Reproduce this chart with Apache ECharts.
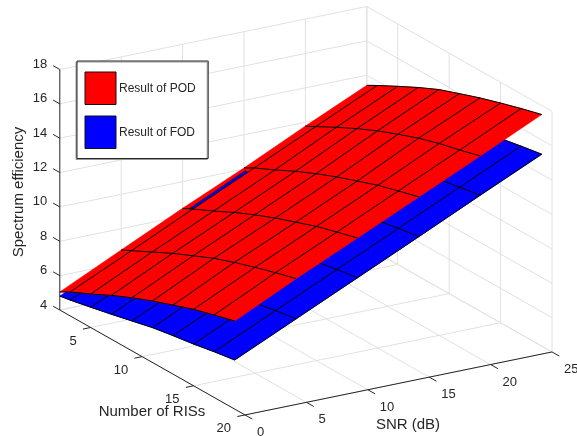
<!DOCTYPE html>
<html>
<head>
<meta charset="utf-8">
<style>html,body{margin:0;padding:0;background:#fff}#c{width:577px;height:436px}</style>
<script src="https://cdn.jsdelivr.net/npm/echarts@6/dist/echarts.min.js"></script>
</head>
<body>
<div id="c"></div>
<script>
// ---- data ----
const snrValues = [0, 5, 10, 15, 20, 25];
const risValues = [2, 3, 5, 7, 9, 11, 13, 15, 17, 19];
// one list per SNR value, one entry per RIS count
const podSnr0  = [5.05, 5.39, 5.95, 6.55, 7.09, 7.58, 8.02, 8.45, 8.80, 9.13];
const podSnr5  = [6.76, 7.06, 7.66, 8.26, 8.80, 9.33, 9.77, 10.16, 10.53, 10.86];
const podSnr10 = [8.45, 8.75, 9.31, 9.91, 10.45, 10.94, 11.38, 11.81, 12.16, 12.49];
const podSnr15 = [10.07, 10.41, 10.97, 11.57, 12.11, 12.60, 13.04, 13.47, 13.82, 14.15];
const podSnr20 = [11.77, 12.08, 12.72, 13.32, 13.87, 14.35, 14.80, 15.17, 15.47, 15.80];
const podSnr25 = [13.41, 13.74, 14.37, 14.98, 15.54, 15.98, 16.41, 16.79, 17.15, 17.48];
const fodSnr0  = [4.81, 4.92, 5.18, 5.45, 5.74, 6.03, 6.24, 6.43, 6.66, 6.86];
const fodSnr5  = [6.47, 6.58, 6.84, 7.11, 7.40, 7.69, 7.90, 8.09, 8.32, 8.52];
const fodSnr10 = [8.13, 8.24, 8.50, 8.77, 9.06, 9.35, 9.56, 9.75, 9.98, 10.18];
const fodSnr15 = [9.79, 9.90, 10.16, 10.43, 10.72, 11.01, 11.22, 11.41, 11.64, 11.84];
const fodSnr20 = [11.45, 11.56, 11.82, 12.09, 12.38, 12.67, 12.88, 13.07, 13.30, 13.52];
const fodSnr25 = [13.11, 13.22, 13.48, 13.75, 14.04, 14.33, 14.54, 14.73, 14.96, 15.17];
// small part of the FOD surface showing through the POD surface
const sliverSnr = [10.1, 14.7, 14.5, 10.1];
const sliverRis = [2.49, 2.5, 2.96, 3.0];
const sliverVal = [8.57, 10.12, 10.22, 8.80];
// axis ticks
const snrTicks = [0, 5, 10, 15, 20, 25];
const risTicks = [5, 10, 15, 20];
const zTicks = [4, 6, 8, 10, 12, 14, 16, 18];
const snrMin = 0, snrMax = 25, risMin = 2, risMax = 20, zMin = 4, zMax = 18;

// ---- orthographic view of the 3D box, in the plane of a hidden cartesian grid ----
const view = {ox: 59.8, oy: 310, sx: 12.28, sy: -2.52, nx: 10.29, ny: 5.83, zy: -17.18};
function project(s, n, z) {
  return [view.ox + s * view.sx + (n - risMin) * view.nx,
          view.oy + s * view.sy + (n - risMin) * view.ny + (z - zMin) * view.zy];
}
const INK = '#262626', GRID = '#e2e2e2';

function pathShape(api, pts) { return pts.map(p => api.coord(project(p[0], p[1], p[2]))); }

function linesSeries(items) {
  return {
    type: 'custom', coordinateSystem: 'cartesian2d', silent: true, clip: false,
    data: items.map((_, i) => [i]),
    renderItem(params, api) {
      const it = items[params.dataIndex];
      return {type: 'polyline', silent: true,
        shape: {points: pathShape(api, it.pts)},
        style: {stroke: it.color, lineWidth: it.width || 1, fill: 'none'}};
    }
  };
}

function surfaceSeries(name, color, table, edgeLine, extra) {
  const items = [];
  for (let a = 0; a < snrValues.length - 1; a++) {
    for (let b = 0; b < risValues.length - 1; b++) {
      items.push({fill: color, pts: [
        [snrValues[a], risValues[b], table[a][b]],
        [snrValues[a + 1], risValues[b], table[a + 1][b]],
        [snrValues[a + 1], risValues[b + 1], table[a + 1][b + 1]],
        [snrValues[a], risValues[b + 1], table[a][b + 1]]
      ]});
    }
  }
  const lastRow = edgeLine ? risValues.length : risValues.length - 1;
  for (let b = 1; b < lastRow; b++) {
    items.push({line: true, pts: snrValues.map((s, a) => [s, risValues[b], table[a][b]])});
  }
  snrValues.forEach((s, a) => {
    items.push({line: true, pts: risValues.map((n, b) => [s, n, table[a][b]])});
  });
  (extra || []).forEach(e => items.push(e));
  return {
    name, type: 'custom', coordinateSystem: 'cartesian2d', silent: true, clip: false,
    itemStyle: {color},
    data: items.map((_, i) => [i]),
    renderItem(params, api) {
      const it = items[params.dataIndex];
      const points = pathShape(api, it.pts);
      if (it.line) {
        return {type: 'polyline', silent: true, shape: {points},
          style: {stroke: '#000', lineWidth: it.width || 1, fill: 'none'}};
      }
      return {type: 'polygon', silent: true, shape: {points},
        style: {fill: it.fill, stroke: it.stroke || it.fill, lineWidth: it.stroke ? 0.5 : 0.6}};
    }
  };
}

// ---- box: grid lines and axes ----
const gridItems = [];
const addGrid = pts => gridItems.push({color: GRID, pts});
snrTicks.forEach(s => {
  addGrid([[s, risMin, zMin], [s, risMax, zMin]]);
  if (s > snrMin) addGrid([[s, risMin, zMin], [s, risMin, zMax]]);
});
risTicks.concat([risMin]).forEach(n => {
  addGrid([[snrMin, n, zMin], [snrMax, n, zMin]]);
  addGrid([[snrMax, n, zMin], [snrMax, n, zMax]]);
});
zTicks.forEach(z => addGrid([[snrMin, risMin, z], [snrMax, risMin, z], [snrMax, risMax, z]]));

const axisItems = [];
const addAxis = pts => axisItems.push({color: INK, pts});
addAxis([[snrMin, risMin, zMin], [snrMin, risMin, zMax]]);
addAxis([[snrMin, risMin, zMin], [snrMin, risMax, zMin]]);
addAxis([[snrMin, risMax, zMin], [snrMax, risMax, zMin]]);
zTicks.forEach(z => addAxis([[snrMin, risMin, z], [snrMin, risMin - 0.65, z]]));
risTicks.forEach(n => addAxis([[snrMin, n, zMin], [snrMin - 0.63, n, zMin]]));
snrTicks.forEach(s => addAxis([[s, risMax, zMin], [s, risMax + 0.71, zMin]]));

// ---- tick labels ----
const labelItems = [];
zTicks.forEach(z => labelItems.push({text: String(z), at: [snrMin, risMin, z], dx: -12.5, dy: -5, align: 'right'}));
risTicks.forEach(n => labelItems.push({text: String(n), at: [snrMin, n, zMin], dx: -14, dy: 13.5, align: 'right'}));
snrTicks.forEach(s => labelItems.push({text: String(s), at: [s, risMax, zMin], dx: 12, dy: 17.4, align: 'left'}));
const labelSeries = {
  type: 'custom', coordinateSystem: 'cartesian2d', silent: true, clip: false,
  data: labelItems.map((_, i) => [i]),
  renderItem(params, api) {
    const it = labelItems[params.dataIndex];
    const p = pathShape(api, [it.at])[0];
    return {type: 'text', silent: true, x: p[0] + it.dx, y: p[1] + it.dy,
      style: {text: it.text, fill: INK, font: '13px "Liberation Sans", Arial, sans-serif',
        align: it.align, verticalAlign: 'middle'}};
  }
};

const podTable = [podSnr0, podSnr5, podSnr10, podSnr15, podSnr20, podSnr25];
const fodTable = [fodSnr0, fodSnr5, fodSnr10, fodSnr15, fodSnr20, fodSnr25];
const sliver = {fill: '#0000ff', stroke: '#000', pts: sliverSnr.map((s, i) => [s, sliverRis[i], sliverVal[i]])};

const titleFont = '15px "Liberation Sans", Arial, sans-serif';
const chart = echarts.init(document.getElementById('c'), null, {renderer: 'canvas'});
chart.setOption({
  animation: false,
  backgroundColor: '#fff',
  grid: {left: 0, right: 0, top: 0, bottom: 0},
  xAxis: {type: 'value', min: 0, max: 577, show: false},
  yAxis: {type: 'value', min: 0, max: 436, inverse: true, show: false},
  legend: {
    data: ['Result of POD', 'Result of FOD'],
    orient: 'vertical', left: 77, top: 61,
    padding: [10.5, 12.5, 9.5, 7.5],
    itemWidth: 31, itemHeight: 32.5, itemGap: 10.5,
    icon: 'rect', selectedMode: false,
    itemStyle: {borderColor: '#111', borderWidth: 1},
    textStyle: {color: INK, fontSize: 12, fontFamily: '"Liberation Sans", Arial, sans-serif', padding: [0, 0, 0, -2]},
    backgroundColor: '#fff', borderColor: INK, borderWidth: 1,
    shadowColor: '#999', shadowBlur: 0, shadowOffsetX: -1, shadowOffsetY: 1
  },
  graphic: [
    {type: 'text', silent: true, x: 152, y: 411.7, style: {text: 'Number of RISs', font: titleFont, fill: INK, align: 'center', verticalAlign: 'middle'}},
    {type: 'text', silent: true, x: 408, y: 424.5, style: {text: 'SNR (dB)', font: titleFont, fill: INK, align: 'center', verticalAlign: 'middle'}},
    {type: 'text', silent: true, x: 18.5, y: 192, rotation: Math.PI / 2, style: {text: 'Spectrum efficiency', font: titleFont, fill: INK, align: 'center', verticalAlign: 'middle'}}
  ],
  series: [
    linesSeries(gridItems),
    linesSeries(axisItems),
    labelSeries,
    surfaceSeries('Result of FOD', '#0000ff', fodTable, true),
    surfaceSeries('Result of POD', '#ff0000', podTable, false, [sliver])
  ]
});
</script>
</body>
</html>
